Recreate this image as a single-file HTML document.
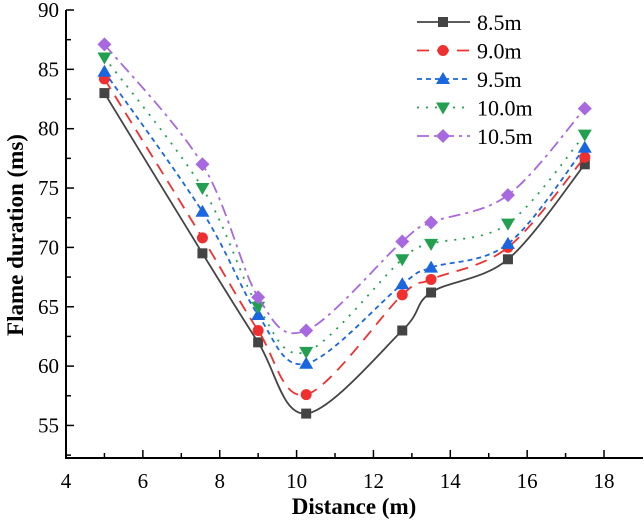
<!DOCTYPE html>
<html><head><meta charset="utf-8"><style>
body{margin:0;background:#fff;}
svg text{font-family:"Liberation Serif",serif;}
</style></head><body>
<svg id="chart" width="644" height="525" xmlns="http://www.w3.org/2000/svg">
<g id="axes"></g><g id="series"></g><g id="legend"></g>
</svg>
<script>
const distances=[5,7.55,9,10.25,12.75,13.5,15.5,17.5];
const s85=[83,69.5,62,56,63,66.2,69,77];
const s90=[84.2,70.8,63,57.6,66,67.3,70,77.6];
const s95=[84.8,73,64.3,60.2,66.9,68.3,70.3,78.4];
const s100=[86,75,65,61.2,69,70.3,72,79.5];
const s105=[87.1,77,65.8,63,70.5,72.1,74.4,81.7];
const seriesNames=["8.5m","9.0m","9.5m","10.0m","10.5m"];
const xTicks=[4,6,8,10,12,14,16,18];
const yTicks=[55,60,65,70,75,80,85,90];

const NS="http://www.w3.org/2000/svg";
const X0=66,XR=643,YB=458;
const xs=v=>66+(v-4)*38.43;
const ys=v=>10+(90-v)*11.87;
function mk(tag,attrs,parent,text){const e=document.createElementNS(NS,tag);for(const k in attrs)e.setAttribute(k,attrs[k]);if(text!==undefined)e.textContent=text;parent.appendChild(e);return e;}
const axes=document.getElementById('axes');
const ya=mk('line',{x1:X0,y1:10,x2:X0,y2:YB,stroke:'#000','stroke-width':2},axes);


const xa=mk('line',{x1:X0-1,y1:YB,x2:XR,y2:YB,stroke:'#000','stroke-width':2},axes);


for(let v=4;v<=18.5;v+=1){const major=v%2===0;mk('line',{x1:xs(v),x2:xs(v),y1:YB,y2:YB-(major?8:5),stroke:'#000','stroke-width':1.5},axes);}
xTicks.forEach(v=>{const t=mk('text',{x:xs(v),y:YB+30,'text-anchor':'middle','font-size':21},axes,String(v));

});
for(let v=52.5;v<=90;v+=2.5){const major=v%5===0;mk('line',{x1:X0,x2:X0+(major?8:5),y1:ys(v),y2:ys(v),stroke:'#000','stroke-width':1.5},axes);}
yTicks.forEach(v=>{const t=mk('text',{x:X0-7,y:ys(v)+7,'text-anchor':'end','font-size':21},axes,String(v));

});
const xt=mk('text',{x:354,y:514,'text-anchor':'middle','font-size':23,'font-weight':'bold'},axes,'Distance (m)');


const yt=mk('text',{x:0,y:0,'text-anchor':'middle','font-size':23,'font-weight':'bold',transform:'translate(23,235) rotate(-90)'},axes,'Flame duration (ms)');



const colors=['#444444','#f03030','#1a66e0','#22a050','#a868e0'];
const dashes=['none','12 8','5 4','2 7','12 5 3 5'];
const data=[s85,s90,s95,s100,s105];
function marker(g,i,x,y){let e;
 if(i===0)e=mk('rect',{x:x-5,y:y-5,width:10,height:10,fill:colors[i]},g);
 else if(i===1)e=mk('circle',{cx:x,cy:y,r:5.5,fill:colors[i]},g);
 else if(i===2)e=mk('polygon',{points:`${x},${y-7} ${x-7},${y+5} ${x+7},${y+5}`,fill:colors[i]},g);
 else if(i===3)e=mk('polygon',{points:`${x},${y+7} ${x-7},${y-5} ${x+7},${y-5}`,fill:colors[i]},g);
 else e=mk('polygon',{points:`${x},${y-7} ${x+7},${y} ${x},${y+7} ${x-7},${y}`,fill:colors[i]},g);
 return e;}
function spline(pts){let d=`M${pts[0][0]},${pts[0][1]}`;
 for(let i=0;i<pts.length-1;i++){const p0=pts[Math.max(i-1,0)],p1=pts[i],p2=pts[i+1],p3=pts[Math.min(i+2,pts.length-1)];
 const c1=[p1[0]+(p2[0]-p0[0])/6,p1[1]+(p2[1]-p0[1])/6],c2=[p2[0]-(p3[0]-p1[0])/6,p2[1]-(p3[1]-p1[1])/6];
 d+=` C${c1[0]},${c1[1]} ${c2[0]},${c2[1]} ${p2[0]},${p2[1]}`;}return d;}
const sg=document.getElementById('series');
data.forEach((arr,i)=>{
 const g=mk('g',{},sg);
 
 
 const pts=arr.map((v,j)=>[xs(distances[j]),ys(v)]);
 mk('path',{d:spline(pts),fill:'none',stroke:colors[i],'stroke-width':1.8,'stroke-dasharray':dashes[i]},g);
 pts.forEach(p=>{const m=marker(g,i,p[0],p[1]);
 
 });
});
const lg=document.getElementById('legend');
seriesNames.forEach((n,i)=>{const y=22+i*28.5;
 const g=mk('g',{},lg);
 
 
 mk('line',{x1:417,x2:470,y1:y,y2:y,stroke:colors[i],'stroke-width':1.8,'stroke-dasharray':dashes[i]},g);
 marker(g,i,443,y);
 mk('text',{x:477,y:y+8,'font-size':22},g,n);});
</script>
</body></html>
